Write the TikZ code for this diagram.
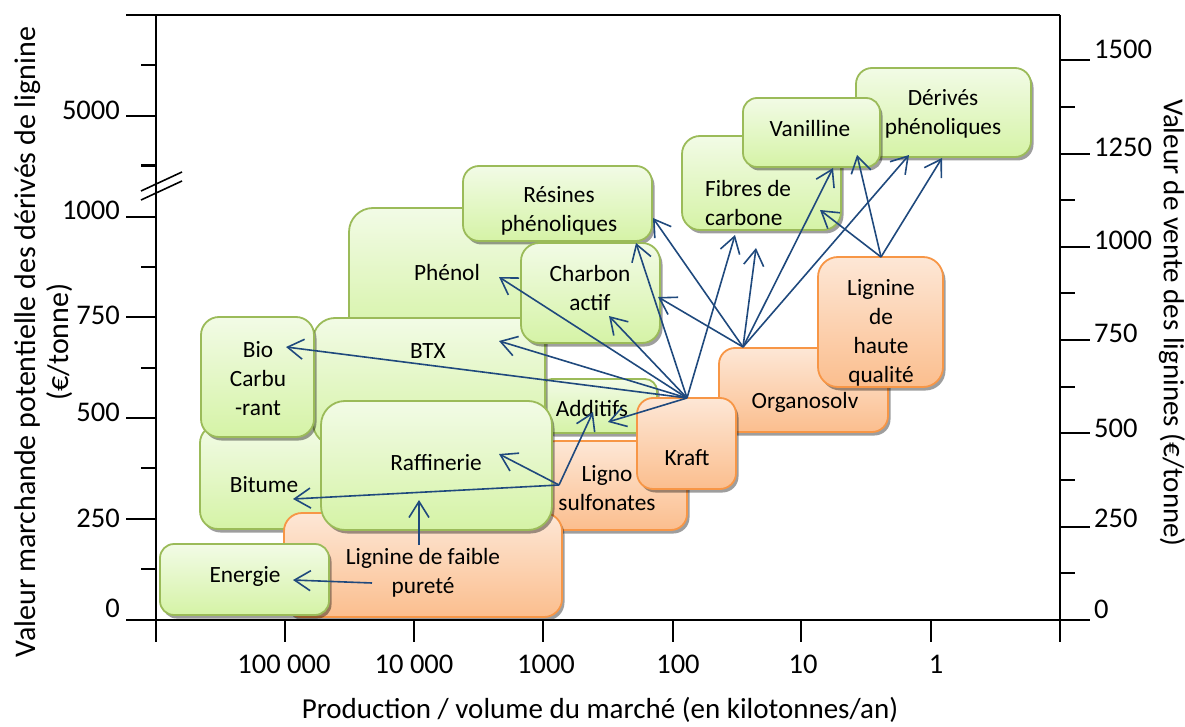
\documentclass[tikz,border=0pt]{standalone}
\usepackage{fontspec}
\setmainfont{Carlito}
\usetikzlibrary{arrows.meta,shadows}
\definecolor{gborder}{HTML}{9BBB59}
\definecolor{gtop}{HTML}{F2FBE6}
\definecolor{gbot}{HTML}{D5F3A6}
\definecolor{oborder}{HTML}{F79646}
\definecolor{otop}{HTML}{FDE7D6}
\definecolor{obot}{HTML}{FBBE8E}
\definecolor{arrowblue}{HTML}{1F497D}
\tikzset{
  boxbase/.style={line width=1.8pt, rounded corners=#1, inner sep=0pt,
    drop shadow={shadow xshift=2.5pt, shadow yshift=-3.5pt, fill=black, opacity=0.38}},
  gbox/.style={boxbase=#1, draw=gborder, top color=gtop, bottom color=gbot},
  gbox/.default=16pt,
  obox/.style={boxbase=#1, draw=oborder, top color=otop, bottom color=obot},
  obox/.default=16pt,
  lbl/.style={font=\fontsize{23.3}{29}\selectfont, align=center, inner sep=0pt},
  conn/.style={draw=arrowblue, line width=1.6pt, -{Straight Barb[length=16pt,width=20pt]}},
  axisline/.style={line width=2.2pt, black},
  thinline/.style={line width=1.6pt, black},
  ticklbl/.style={font=\fontsize{28.5}{32}\selectfont, inner sep=0pt},
  titlelbl/.style={font=\fontsize{29}{33}\selectfont, inner sep=0pt, align=center},
}
\begin{document}
\begin{tikzpicture}[x=1pt,y=-1pt]
\useasboundingbox (0,0) rectangle (1185,727);
% ---------- axes ----------
\draw[axisline] (126,15) -- (1060,15);
\draw[axisline] (156,15) -- (156,642);
\draw[axisline] (1060,15) -- (1060,642);
\draw[axisline] (126,620) -- (1090,620);
% left ticks
\foreach \y in {519,418,317,216.7,115.7} \draw[axisline] (126,\y) -- (156,\y);
\foreach \y in {569,468,368,267,165.5,65} \draw[axisline] (141,\y) -- (156,\y);
% right ticks
\foreach \y in {527,433,340,247,154,60} \draw[axisline] (1060,\y) -- (1090,\y);
\foreach \y in {573,480,387,293,200,107} \draw[axisline] (1060,\y) -- (1075,\y);
% bottom ticks
\foreach \x in {285,414,543,673,801,931} \draw[axisline] (\x,620) -- (\x,642);
% axis break
\draw[thinline] (141,191) -- (182,172);
\draw[thinline] (141,200) -- (182,181);
% tick labels left
\node[ticklbl, anchor=east] (l5000) at (120,110) {5000};
\node[ticklbl, anchor=east] (l1000) at (120,210) {1000};
\node[ticklbl, anchor=east] (l750) at (120,315) {750};
\node[ticklbl, anchor=east] (l500) at (120,412) {500};
\node[ticklbl, anchor=east] (l250) at (120,518) {250};
\node[ticklbl, anchor=east] (l0) at (120,608) {0};
% tick labels right
\node[ticklbl, anchor=west] (r1500) at (1094,49) {1500};
\node[ticklbl, anchor=west] (r1250) at (1094,147) {1250};
\node[ticklbl, anchor=west] (r1000) at (1094,240) {1000};
\node[ticklbl, anchor=west] (r750) at (1094,333) {750};
\node[ticklbl, anchor=west] (r500) at (1094,428) {500};
\node[ticklbl, anchor=west] (r250) at (1094,518) {250};
\node[ticklbl, anchor=west] (r0) at (1094,609) {0};
% tick labels bottom
\node[ticklbl] (b1) at (284,664) {100 000};
\node[ticklbl] (b2) at (414,664) {10 000};
\node[ticklbl] (b3) at (546,664) {1000};
\node[ticklbl] (b4) at (678,664) {100};
\node[ticklbl] (b5) at (803,664) {10};
\node[ticklbl] (b6) at (936,664) {1};
% axis titles
\node[titlelbl, anchor=base] (xtitle) at (600,718) {Production / volume du marché (en kilotonnes/an)};
\node[titlelbl, rotate=90, font=\fontsize{30}{33}\selectfont] (ytitle) at (44,342) {Valeur marchande potentielle des dérivés de lignine\\(€/tonne)};
\node[titlelbl, rotate=-90] (ytitle2) at (1172,323) {Valeur de vente des lignines (€/tonne)};
% ---------- boxes ----------
\node[gbox=18pt, minimum width=130pt, minimum height=104pt] (bitume) at (265,477) {};
\node[gbox=24pt, minimum width=198pt, minimum height=132pt] (phenol) at (448,274) {};
\node[obox=16pt, minimum width=147pt, minimum height=89pt] (ligno) at (613.5,485.5) {};
\node[gbox=12pt, minimum width=117pt, minimum height=54pt] (additifs) at (598.5,406) {};
\node[gbox=22pt, minimum width=232pt, minimum height=127pt] (btx) at (429,381.5) {};
\node[gbox=18pt, minimum width=113pt, minimum height=120pt] (bio) at (257.5,377) {};
\node[gbox=16pt, minimum width=189pt, minimum height=75pt] (resines) at (557.5,203.5) {};
\node[gbox=18pt, minimum width=139pt, minimum height=100pt] (charbon) at (590.5,293) {};
\node[obox=18pt, minimum width=278pt, minimum height=104pt] (faible) at (423,565) {};
\node[gbox=24pt, minimum width=231pt, minimum height=129pt] (raffinerie) at (436.5,465.5) {};
\node[gbox=14pt, minimum width=169pt, minimum height=71pt] (energie) at (244.5,579.5) {};
\node[obox=16pt, minimum width=169pt, minimum height=84pt] (organosolv) at (803.5,390) {};
\node[obox=16pt, minimum width=99pt, minimum height=91pt] (kraft) at (686.5,443.5) {};
\node[obox=20pt, minimum width=125pt, minimum height=130pt] (haute) at (880.5,322) {};
\node[gbox=18pt, minimum width=159pt, minimum height=94pt] (fibres) at (761.5,183) {};
\node[gbox=16pt, minimum width=175pt, minimum height=89pt] (derives) at (943.5,112.5) {};
\node[gbox=14pt, minimum width=137pt, minimum height=69pt] (vanilline) at (811.5,132.5) {};
% ---------- labels ----------
\node[lbl] (tbitume) at (264,485) {Bitume};
\node[lbl] (tphenol) at (447,272) {Phénol};
\node[lbl] (tligno) at (607,488) {Ligno\\sulfonates};
\node[lbl] (tadditifs) at (592,408) {Additifs};
\node[lbl] (tbtx) at (428,351) {BTX};
\node[lbl] (tbio) at (258,379) {Bio\\Carbu\\-rant};
\node[lbl] (tresines) at (559,211) {Résines\\phénoliques};
\node[lbl] (tcharbon) at (590,288) {Charbon\\actif};
\node[lbl] (tfaible) at (423,573) {Lignine de faible\\pureté};
\node[lbl] (traffinerie) at (436,463) {Raffinerie};
\node[lbl] (tenergie) at (245,576) {Energie};
\node[lbl] (torganosolv) at (805,402) {Organosolv};
\node[lbl] (tkraft) at (687,458) {Kraft};
\node[lbl] (thaute) at (881,333) {Lignine\\de\\haute\\qualité};
\node[lbl, align=left, anchor=west] (tfibres) at (705,203) {Fibres de\\carbone};
\node[lbl] (tderives) at (943,114) {Dérivés\\phénoliques};
\node[lbl] (tvanilline) at (810,128) {Vanilline};
% ---------- connector ends ----------
\coordinate (faibleA) at (419,545);
\coordinate (faibleB) at (372,583);
\coordinate (lignoS) at (559,485);
\coordinate (kraftS) at (687,398);
\coordinate (orgaS) at (743,347);
\coordinate (hauteS) at (881,257);
\coordinate (raffT1) at (419,500);
\coordinate (energieT) at (293,580);
\coordinate (bitumeT) at (293,499);
\coordinate (raffT2) at (499,454);
\coordinate (additifsT1) at (593,412);
\coordinate (bioT) at (286,347);
\coordinate (btxT) at (499,341);
\coordinate (phenolT) at (499,277);
\coordinate (charbonT1) at (609,316);
\coordinate (resinesT1) at (636,243);
\coordinate (additifsT2) at (608,422);
\coordinate (fibresT1) at (735,235);
\coordinate (resinesT2) at (653,218);
\coordinate (charbonT2) at (658,297);
\coordinate (fibresT2) at (756,248);
\coordinate (vanillineT1) at (833,168);
\coordinate (derivesT1) at (909,155);
\coordinate (fibresT3) at (820,210);
\coordinate (vanillineT2) at (857,155);
\coordinate (derivesT2) at (942,158);
% ---------- connectors ----------
\draw[conn] (faibleA) -- (raffT1);
\draw[conn] (faibleB) -- (energieT);
\draw[conn] (lignoS) -- (bitumeT);
\draw[conn] (lignoS) -- (raffT2);
\draw[conn] (lignoS) -- (additifsT1);
\draw[conn] (kraftS) -- (bioT);
\draw[conn] (kraftS) -- (btxT);
\draw[conn] (kraftS) -- (phenolT);
\draw[conn] (kraftS) -- (charbonT1);
\draw[conn] (kraftS) -- (resinesT1);
\draw[conn] (kraftS) -- (additifsT2);
\draw[conn] (kraftS) -- (fibresT1);
\draw[conn] (orgaS) -- (resinesT2);
\draw[conn] (orgaS) -- (charbonT2);
\draw[conn] (orgaS) -- (fibresT2);
\draw[conn] (orgaS) -- (vanillineT1);
\draw[conn] (orgaS) -- (derivesT1);
\draw[conn] (hauteS) -- (fibresT3);
\draw[conn] (hauteS) -- (vanillineT2);
\draw[conn] (hauteS) -- (derivesT2);
\end{tikzpicture}
\end{document}
